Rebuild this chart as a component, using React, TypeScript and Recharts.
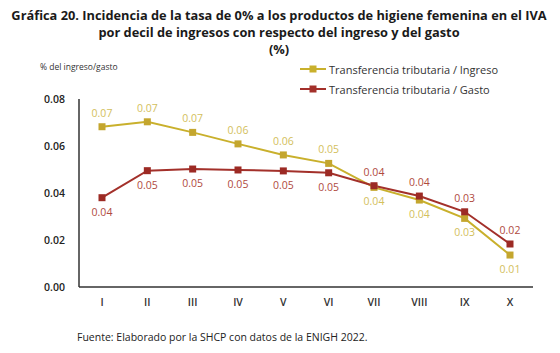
import React from 'react';
import { LineChart, Line, XAxis, YAxis, LabelList } from 'recharts';

const deciles = ['I', 'II', 'III', 'IV', 'V', 'VI', 'VII', 'VIII', 'IX', 'X'];
const ingreso = [0.0682, 0.0703, 0.0658, 0.0609, 0.0562, 0.0526, 0.0424, 0.037, 0.0292, 0.0136];
const gasto = [0.038, 0.0495, 0.0502, 0.0498, 0.0494, 0.0486, 0.0431, 0.0387, 0.032, 0.0183];
const yTicks = [0, 0.02, 0.04, 0.06, 0.08];

const YELLOW = '#c9b02c';
const RED = '#a3302a';
const FONT = '"Open Sans", "Noto Sans", sans-serif';

const data = deciles.map((d, i) => ({ decil: d, ingreso: ingreso[i], gasto: gasto[i] }));

const SquareDot = (color: string) => (props: any) => {
  const { cx, cy, index } = props;
  if (cx == null || cy == null) return null;
  return <rect key={index} x={cx - 3.5} y={cy - 3.5} width={7} height={7} fill={color} />;
};

// yellow labels above for first six deciles, red below; then they swap
const makeLabel = (color: string, aboveFirst: boolean) => (props: any) => {
  const { x, y, value, index } = props;
  const above = index < 6 ? aboveFirst : !aboveFirst;
  return (
    <text
      key={index}
      x={x}
      y={above ? y - 10 : y + 18}
      textAnchor="middle"
      fill={color}
      fontSize={10.5}
      fontFamily={FONT}
    >
      {Number(value).toFixed(2)}
    </text>
  );
};

const legendItems = [
  { name: 'Transferencia tributaria / Ingreso', color: YELLOW },
  { name: 'Transferencia tributaria / Gasto', color: RED },
];

const titleStyle: React.CSSProperties = {
  position: 'absolute',
  left: 0,
  width: 558,
  textAlign: 'center',
  fontWeight: 700,
  fontSize: 12.8,
  lineHeight: '18px',
  color: '#1a1a1a',
  whiteSpace: 'nowrap',
};

export default function App() {
  return (
    <div style={{ position: 'fixed', left: 0, top: 0, width: 560, height: 353, background: '#fff', fontFamily: FONT }}>
      <div style={{ ...titleStyle, top: 6 }}>
        Gráfica 20. Incidencia de la tasa de 0% a los productos de higiene femenina en el IVA
      </div>
      <div style={{ ...titleStyle, top: 23 }}>
        por decil de ingresos con respecto del ingreso y del gasto
      </div>
      <div style={{ ...titleStyle, top: 40 }}>(%)</div>
      <div style={{ position: 'absolute', left: 40, top: 61, fontSize: 8.5, color: '#333' }}>
        % del ingreso/gasto
      </div>
      <div style={{ position: 'absolute', left: 300, top: 59, fontSize: 11, color: '#333', zIndex: 2 }}>
        {legendItems.map((item) => (
          <div key={item.name} style={{ display: 'flex', alignItems: 'center', height: 20 }}>
            <svg width={26} height={10} style={{ marginRight: 3 }}>
              <line x1={0} y1={5} x2={26} y2={5} stroke={item.color} strokeWidth={2} />
              <rect x={9.5} y={1.5} width={7} height={7} fill={item.color} />
            </svg>
            <span>{item.name}</span>
          </div>
        ))}
      </div>
      <LineChart
        width={560}
        height={353}
        data={data}
        margin={{ top: 99, right: 27, bottom: 36, left: 19 }}
      >
        <XAxis
          dataKey="decil"
          padding={{ left: 23, right: 23 }}
          tickLine={false}
          axisLine={{ stroke: '#333', strokeWidth: 1.5 }}
          tick={{ fill: '#333', fontSize: 10.5, fontFamily: FONT, fontWeight: 600 }}
          tickMargin={6}
        />
        <YAxis
          width={60}
          domain={[0, 0.08]}
          ticks={yTicks}
          tickFormatter={(v: number) => v.toFixed(2)}
          tickLine={false}
          axisLine={{ stroke: '#333', strokeWidth: 1.5 }}
          tick={{ fill: '#222', fontSize: 10.5, fontFamily: FONT, fontWeight: 600 }}
          tickMargin={8}
        />
        <Line
          dataKey="ingreso"
          stroke={YELLOW}
          strokeWidth={2}
          dot={SquareDot('#c4a62e')}
          activeDot={false}
          isAnimationActive={false}
        >
          <LabelList dataKey="ingreso" content={makeLabel('#d3c05c', true)} />
        </Line>
        <Line
          dataKey="gasto"
          stroke={RED}
          strokeWidth={2}
          dot={SquareDot('#9c2a24')}
          activeDot={false}
          isAnimationActive={false}
        >
          <LabelList dataKey="gasto" content={makeLabel('#b04a3e', false)} />
        </Line>
      </LineChart>
      <div style={{ position: 'absolute', left: 77, top: 330, fontSize: 10.5, color: '#222' }}>
        Fuente: Elaborado por la SHCP con datos de la ENIGH 2022.
      </div>
    </div>
  );
}
